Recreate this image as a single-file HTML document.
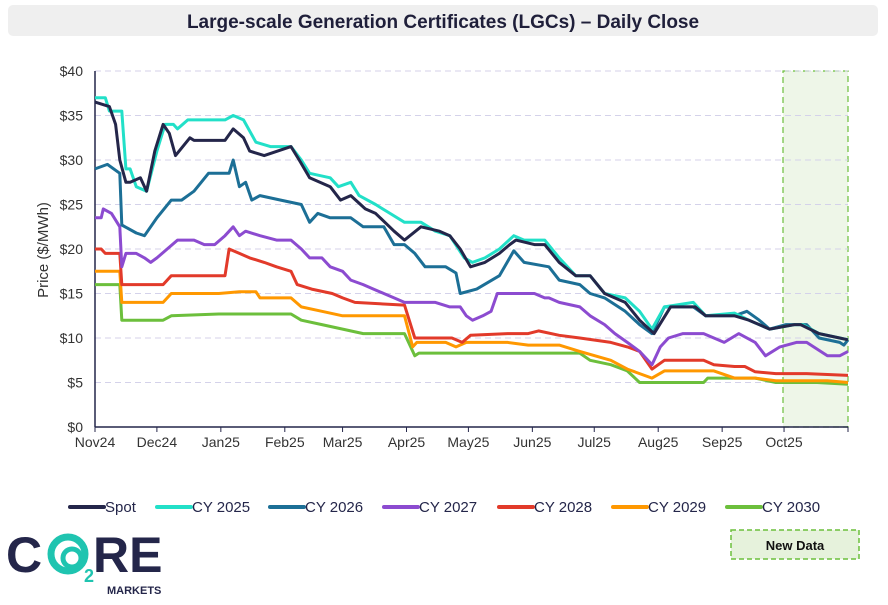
<!DOCTYPE html>
<html><head><meta charset="utf-8"><style>
body{margin:0;background:#fff;width:888px;height:600px;overflow:hidden;font-family:"Liberation Sans",sans-serif}
</style></head><body>
<svg id="c" width="888" height="600" xmlns="http://www.w3.org/2000/svg">
<rect x="8" y="5" width="870" height="31" rx="5" fill="#efefef"/>
<text x="443" y="28" text-anchor="middle" font-size="19" font-weight="bold" fill="#1f1f3a">Large-scale Generation Certificates (LGCs) – Daily Close</text>
<rect x="783" y="71" width="65" height="356" fill="#eef6e8" stroke="#6cbf3c" stroke-dasharray="6,4" stroke-width="1.2"/>
<g id="grid"></g><g id="series"></g>
<text transform="translate(48,250) rotate(-90)" text-anchor="middle" font-size="15" fill="#333">Price ($/MWh)</text>
<g id="legend"></g>
<g>
<text x="6" y="572" font-size="50" font-weight="bold" fill="#24264a" font-family="Liberation Sans,sans-serif">C</text>
<circle cx="68" cy="554" r="17" fill="none" stroke="#1fc4b0" stroke-width="7"/>
<circle cx="72" cy="558" r="9" fill="none" stroke="#1fc4b0" stroke-width="5"/>
<text x="84" y="582" font-size="18" font-weight="bold" fill="#1fc4b0">2</text>
<text x="93" y="572" font-size="50" font-weight="bold" fill="#24264a">RE</text>
<text x="107" y="594" font-size="11" font-weight="bold" fill="#24264a">MARKETS</text>
</g>
<rect x="731" y="530" width="128" height="29" fill="#e6f2dc" stroke="#6cbf3c" stroke-dasharray="5,3" stroke-width="1.5"/>
<text x="795" y="550" text-anchor="middle" font-size="13" font-weight="bold" fill="#111">New Data</text>
</svg>
<script>
const monthLabels=["Nov24","Dec24","Jan25","Feb25","Mar25","Apr25","May25","Jun25","Jul25","Aug25","Sep25","Oct25",""];
const monthDays=[0,30,61,92,120,151,181,212,242,273,304,334,365];
const yTicks=[0,5,10,15,20,25,30,35,40];
const seriesNames=["Spot","CY 2025","CY 2026","CY 2027","CY 2028","CY 2029","CY 2030"];
const seriesColors=["#24264a","#22e0c8","#1c6f96","#8c4bd0","#e23a2a","#ff9800","#6cbf3c"];
const spot=[[0,36.5],[7,36],[10,34],[12,30],[15,27.5],[17,27.5],[22,28],[25,26.5],[29,31],[33,34],[36,33],[39,30.5],[46,32.5],[48,32.2],[63,32.2],[67,33.5],[72,32.5],[75,31],[82,30.5],[95,31.5],[99,30],[104,28],[114,27],[119,25.5],[124,26],[131,24.5],[136,24],[145,22],[150,21],[158,22.5],[167,22],[172,21.5],[177,20],[182,18],[189,18.5],[196,19.5],[201,20.5],[204,21],[213,20.5],[218,20.5],[225,18.5],[233,17],[240,17],[247,15],[257,14],[264,12],[271,10.5],[279,13.5],[291,13.5],[296,12.5],[310,12.5],[317,12],[327,11],[339,11.5],[342,11.5],[351,10.5],[361,10],[365,9.8]];
const cy2025=[[0,37],[5,37],[7,35.5],[13,35.5],[15,29],[17,29],[20,27],[25,26.5],[30,31],[34,34],[38,34],[40,33.5],[45,34.5],[63,34.5],[67,35],[72,34.5],[78,32],[85,31.5],[95,31.5],[100,30],[104,28.5],[114,28],[118,27],[124,27.5],[128,26],[136,25],[143,24],[150,23],[158,23],[165,22],[172,21.5],[179,19],[183,18.5],[189,19],[196,20],[203,21.5],[208,21],[218,21],[225,19],[233,17],[240,17],[247,15],[257,14.5],[264,13],[270,11],[276,13.5],[290,14],[296,12.5],[310,12.8],[317,12],[327,11],[339,11.5],[343,11.5],[351,10.5],[361,10],[365,9.8]];
const cy2026=[[0,29],[6,29.5],[12,28.5],[13,22.7],[20,21.8],[24,21.5],[30,23.5],[37,25.5],[42,25.5],[48,26.5],[55,28.5],[65,28.5],[67,30],[70,27],[73,27.5],[76,25.5],[80,26],[90,25.5],[100,25],[104,23],[108,24],[114,23.5],[124,23.5],[130,22.5],[140,22.5],[145,20.5],[150,20.5],[155,19.5],[160,18],[170,18],[175,17.3],[177,15],[185,15.5],[196,17],[203,19.8],[208,18.5],[220,18],[225,16.5],[235,16],[240,15],[247,14.5],[257,13],[264,11.5],[270,10.5],[276,13.5],[290,13.5],[296,12.5],[310,12.5],[316,13],[322,12],[327,11],[335,11.5],[345,11.5],[351,10],[361,9.5],[363,9.2],[365,9.8]];
const cy2027=[[0,23.5],[3,23.5],[4,24.5],[8,24],[12,22.5],[13,18],[15,19.5],[20,19.5],[24,19],[27,18.5],[30,19],[35,20],[40,21],[48,21],[53,20.5],[58,20.5],[63,21.5],[67,22.5],[70,21.5],[73,22],[80,21.5],[88,21],[95,21],[100,20],[104,19],[110,19],[114,18],[120,17.5],[124,16.5],[130,16],[135,15.5],[140,15],[145,14.5],[150,14],[165,14],[172,13.5],[177,13.5],[180,12.5],[183,12],[188,12.5],[192,13],[195,15],[213,15],[218,14.5],[220,14.5],[225,14],[235,13.5],[240,12.5],[247,11.5],[252,10.5],[258,9.5],[264,8.5],[270,7],[274,9],[278,10],[285,10.5],[295,10.5],[300,10],[305,9.5],[312,10.5],[320,9.5],[325,8],[332,9],[340,9.5],[345,9.5],[355,8],[361,8],[365,8.5]];
const cy2028=[[0,20],[3,20],[5,19.5],[12,19.5],[13,16],[33,16],[37,17],[63,17],[65,20],[70,19.5],[75,19],[82,18.5],[88,18],[95,17.5],[98,16],[105,15.5],[115,15],[120,14.5],[126,14],[150,13.7],[155,10],[173,10],[178,9.5],[182,10.3],[200,10.5],[210,10.5],[215,10.8],[225,10.3],[235,10],[250,9.5],[258,9],[264,8.5],[270,6.5],[276,7.5],[295,7.5],[300,7],[310,6.8],[315,6.8],[320,6.2],[330,6],[345,6],[365,5.8]];
const cy2029=[[0,17.5],[12,17.5],[13,14],[33,14],[37,15],[60,15],[70,15.2],[78,15.2],[80,14.5],[95,14.5],[100,13.5],[110,13],[120,12.5],[150,12.5],[154,9],[156,9.5],[170,9.5],[175,9],[180,9.5],[200,9.5],[210,9.2],[225,9.2],[235,8.5],[250,7.5],[258,6.5],[264,6],[270,5.5],[276,6.3],[300,6.3],[310,5.5],[320,5.5],[330,5.2],[355,5.2],[365,5]];
const cy2030=[[0,16],[12,16],[13,12],[33,12],[37,12.5],[60,12.7],[95,12.7],[100,12],[110,11.5],[120,11],[130,10.5],[150,10.5],[155,8],[157,8.3],[235,8.3],[240,7.5],[250,7],[258,6.3],[264,5],[295,5],[297,5.5],[320,5.5],[330,5],[350,5],[365,4.8]];
const allSeries=[spot,cy2025,cy2026,cy2027,cy2028,cy2029,cy2030];
const NS="http://www.w3.org/2000/svg";
const X0=95,X1=848,Y0=427,Y1=71;
const xs=d=>X0+d*(X1-X0)/365;
const ys=v=>Y0-v*(Y0-Y1)/40;
function mk(t,a,p){const e=document.createElementNS(NS,t);for(const k in a)e.setAttribute(k,a[k]);p.appendChild(e);return e;}
const g=document.getElementById('grid');
yTicks.forEach(v=>{
 if(v>0){const l=mk('line',{x1:X0,x2:X1,y1:ys(v),y2:ys(v),stroke:'#d4d2ea','stroke-dasharray':'6,4'},g);
 
 }
 const t=mk('text',{x:83,y:ys(v)+5,'text-anchor':'end','font-size':14,fill:'#333'},g);t.textContent='$'+v;
 
 
});
const ax=mk('line',{x1:X0,x2:X0,y1:Y1,y2:Y0,stroke:'#24264a','stroke-width':1.5},g);


const bx=mk('line',{x1:X0,x2:X1,y1:Y0,y2:Y0,stroke:'#24264a','stroke-width':1.5},g);


monthDays.forEach((d,i)=>{
 mk('line',{x1:xs(d),x2:xs(d),y1:Y0,y2:Y0+5,stroke:'#24264a'},g);
 const t=mk('text',{x:xs(d),y:Y0+20,'text-anchor':'middle','font-size':14,fill:'#333'},g);t.textContent=monthLabels[i];
 
 
});
const sg=document.getElementById('series');
for(let i=allSeries.length-1;i>=0;i--){
 const pts=allSeries[i].map(p=>xs(p[0]).toFixed(1)+','+ys(p[1]).toFixed(1)).join(' ');
 const pl=mk('polyline',{points:pts,fill:'none',stroke:seriesColors[i],'stroke-width':3,'stroke-linejoin':'round'},sg);
 
 
}
const lg=document.getElementById('legend');
const lx=[70,157,270,384,499,613,727];
seriesNames.forEach((n,i)=>{
 const e=mk('g',{},lg);
 
 
 mk('line',{x1:lx[i],x2:lx[i]+34,y1:507,y2:507,stroke:seriesColors[i],'stroke-width':4,'stroke-linecap':'round'},e);
 const t=mk('text',{x:lx[i]+35,y:512,'font-size':15,fill:'#24264a'},e);t.textContent=n;
});
</script>
</body></html>
